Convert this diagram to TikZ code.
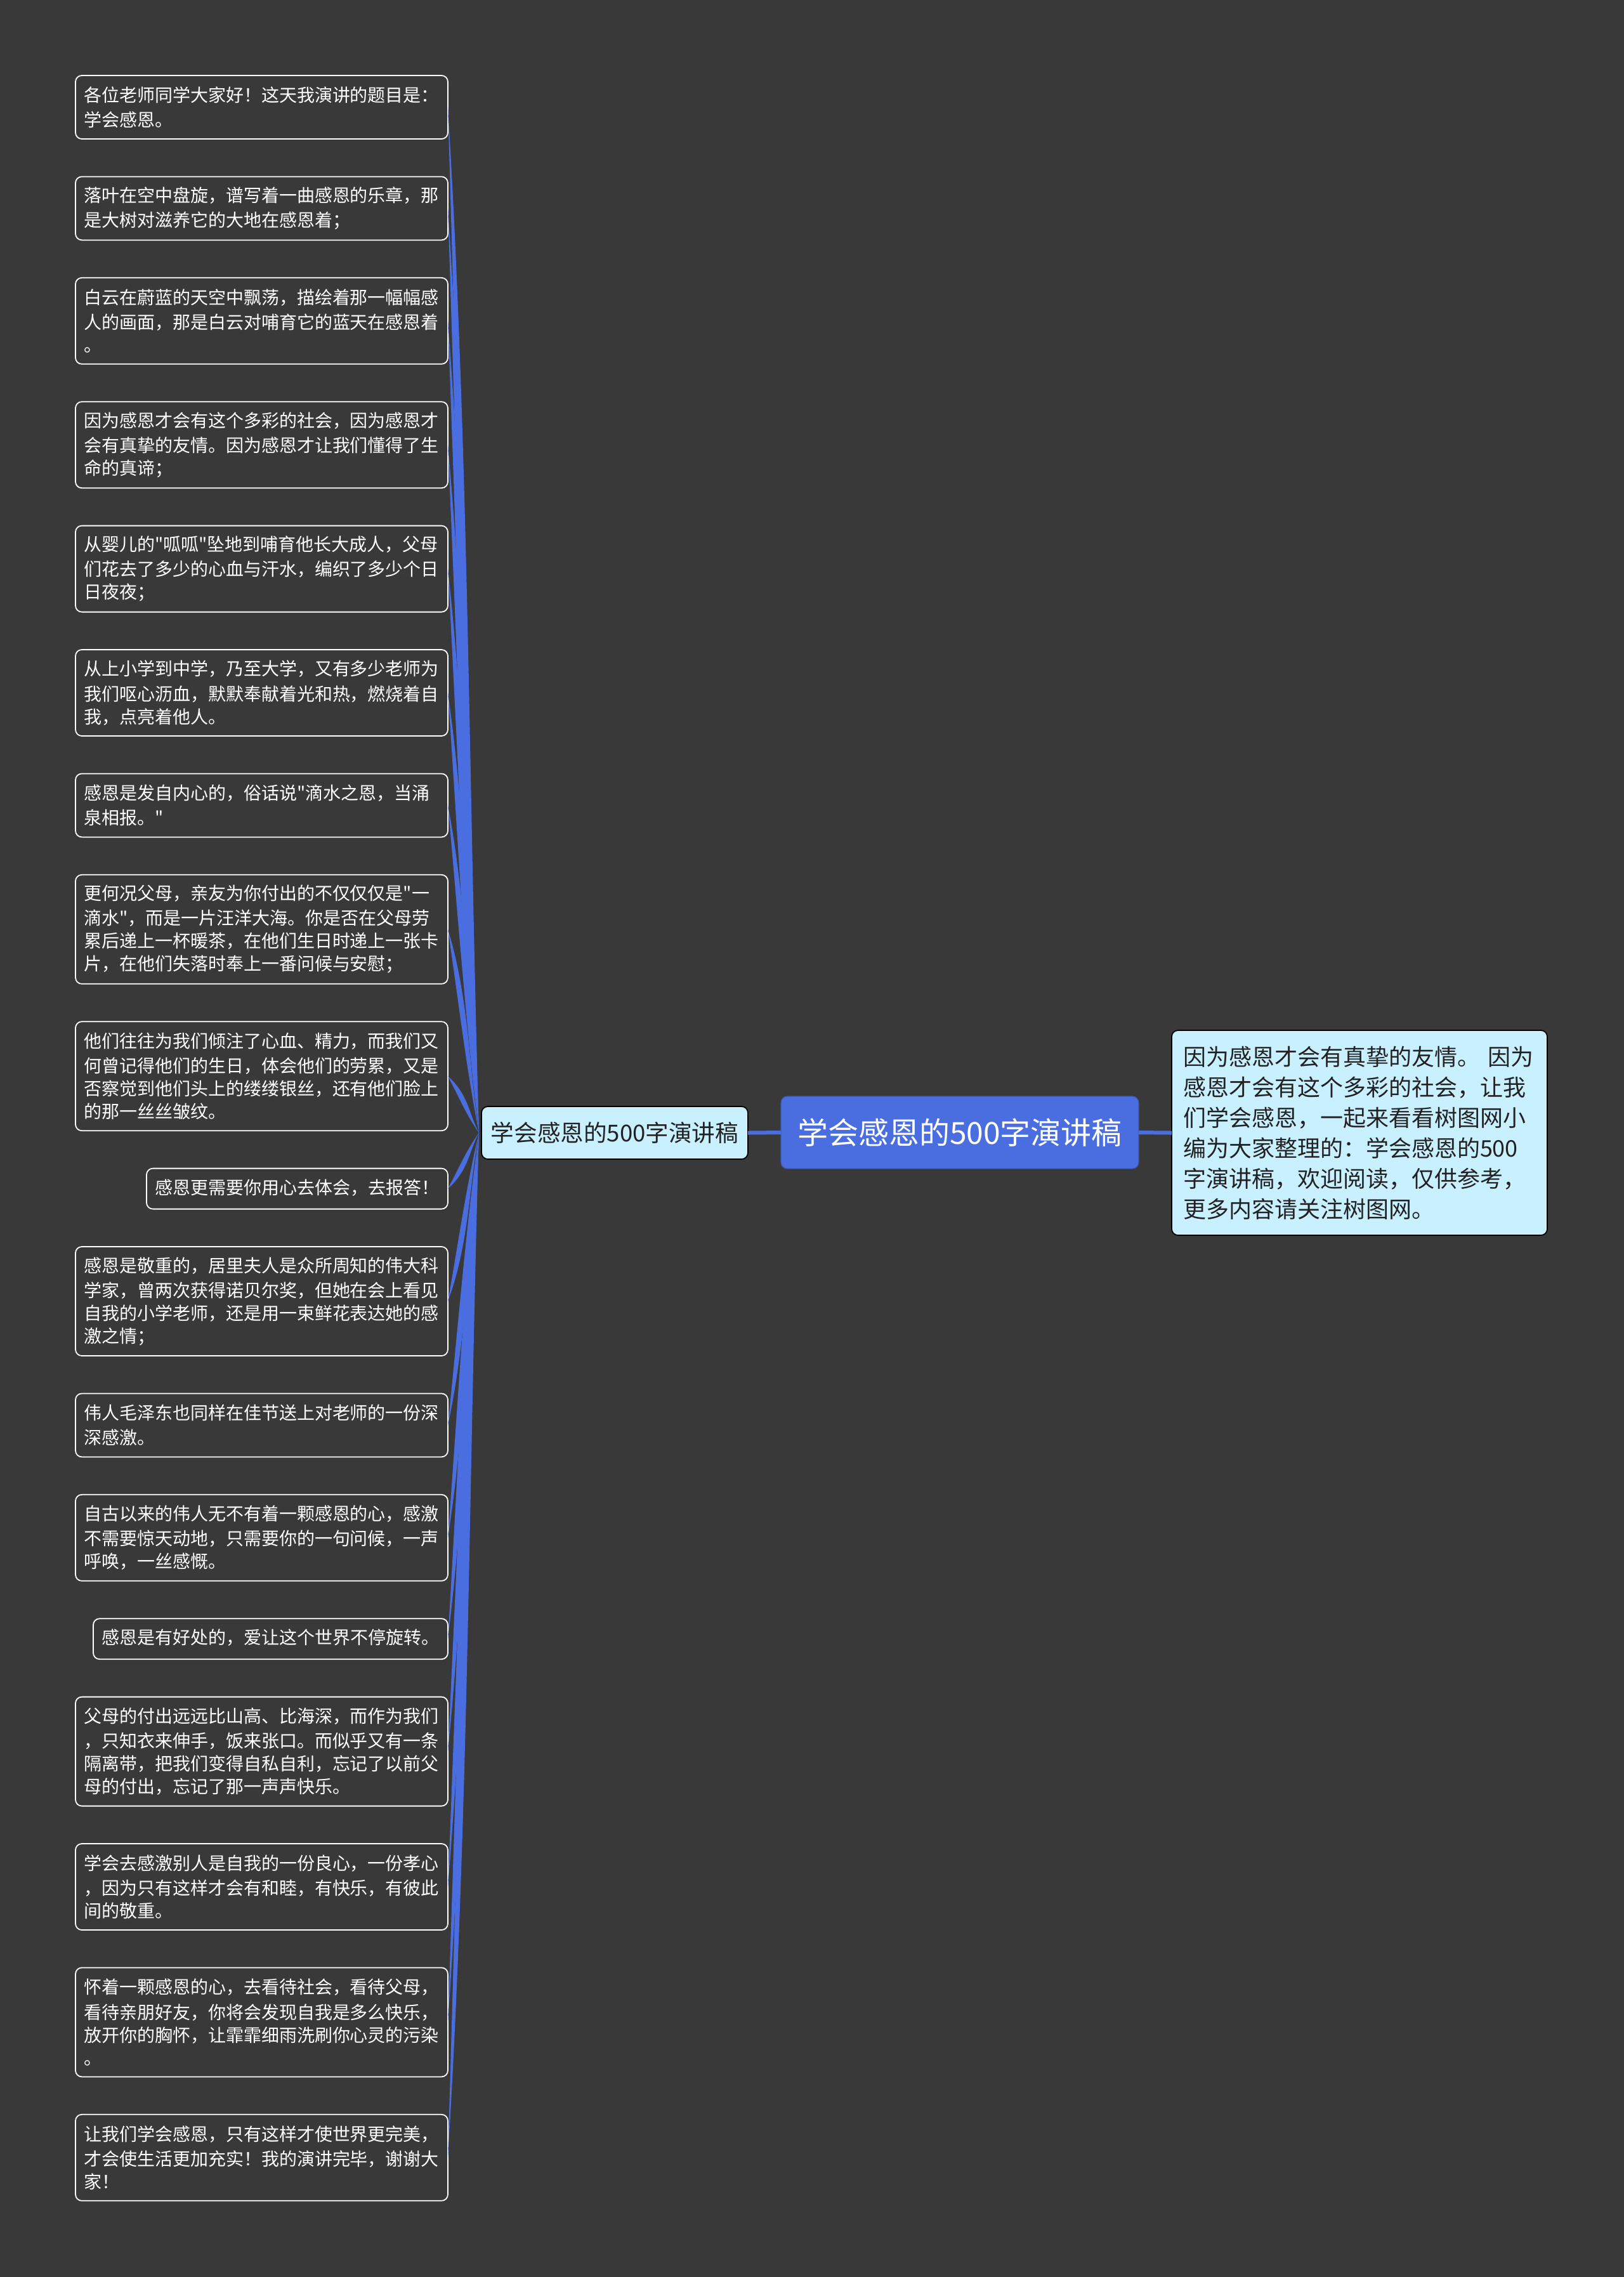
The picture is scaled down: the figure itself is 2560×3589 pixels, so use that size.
\documentclass[tikz,border=0pt]{standalone}
\usepackage{fontspec}
\setmainfont[Ligatures=TeXOff]{Noto Sans CJK SC}
\usetikzlibrary{calc}
\setlength{\lineskiplimit}{-100pt}
\AtBeginDocument{\setlength{\lineskiplimit}{-100pt}}
\definecolor{bgc}{HTML}{3A393A}
\definecolor{bluec}{HTML}{4A6EE0}
\definecolor{lightc}{HTML}{C9F0FF}
\definecolor{darkt}{HTML}{222222}
\tikzset{
  x=0.5pt,y=-0.5pt,
  leafbox/.style={draw=white,line width=0.9pt,rounded corners=5pt,anchor=north west,outer sep=0pt,
    inner xsep=6.5pt,inner ysep=0pt,align=left,text=white,font=\fontsize{14}{18}\selectfont,
    execute at begin node={\vspace*{1.6pt}}},
  wide/.style={leafbox,minimum width=293.5pt,text width=280.5pt},
  hone/.style={minimum height=32pt},
  htwo/.style={minimum height=50pt},
  hthree/.style={minimum height=68pt},
  hfour/.style={minimum height=86pt},
  midbox/.style={draw=black,line width=0.9pt,fill=lightc,rounded corners=5pt,outer sep=0pt,text=darkt},
  rootbox/.style={draw=bluec!80!black,line width=0.6pt,fill=bluec,rounded corners=5pt,outer sep=0pt,text=white},
  trunk/.style={bluec,line width=3pt},
  conn/.style={fill=bluec,draw=none}
}
\newcommand{\taper}[1]{%
  \fill[conn] let \p1=(#1.east), \p2=([xshift=-2pt]mid.west) in
    (\p1) .. controls ({\x1+16.5pt},{\y1+(\y2-\y1)/3}) and ({\x1+16.5pt},{\y1+2*(\y2-\y1)/3}) .. (\p2)
    .. controls ({\x1+14pt},{\y1+2*(\y2-\y1)/3}) and ({\x1+8pt},{\y1+(\y2-\y1)/3}) .. (\p1) -- cycle;}
\begin{document}
\begin{tikzpicture}
\useasboundingbox (0,0) rectangle (2560,3589);
\fill[bgc] (0,0) rectangle (2560,3589);

\node[rootbox,minimum width=282pt,minimum height=57pt,font=\fontsize{24}{30}\selectfont] (root) at (1513,1785) {学会感恩的500字演讲稿};
\node[midbox,minimum width=210pt,minimum height=41.5pt,font=\fontsize{18.3}{24}\selectfont] (mid) at (969,1785.5) {学会感恩的500字演讲稿};
\node[midbox,anchor=north west,minimum width=296pt,minimum height=161.5pt,inner xsep=9pt,inner ysep=0pt,text width=278pt,align=left,font=\fontsize{18}{24}\selectfont] (note) at (1847,1624) {因为感恩才会有真挚的友情。 因为\\感恩才会有这个多彩的社会，让我\\们学会感恩，一起来看看树图网小\\编为大家整理的：学会感恩的500\\字演讲稿，欢迎阅读，仅供参考，\\更多内容请关注树图网。};

\draw[trunk] (mid.east) -- (root.west);
\draw[trunk] (root.east) -- (note.west);

\node[wide,htwo] (a1) at (119,119) {各位老师同学大家好！这天我演讲的题目是：\\学会感恩。};
\node[wide,htwo] (a2) at (119,278.4) {落叶在空中盘旋，谱写着一曲感恩的乐章，那\\是大树对滋养它的大地在感恩着；};
\node[wide,hthree] (a3) at (119,437.8) {白云在蔚蓝的天空中飘荡，描绘着那一幅幅感\\人的画面，那是白云对哺育它的蓝天在感恩着\\。};
\node[wide,hthree] (a4) at (119,633.2) {因为感恩才会有这个多彩的社会，因为感恩才\\会有真挚的友情。因为感恩才让我们懂得了生\\命的真谛；};
\node[wide,hthree] (a5) at (119,828.6) {从婴儿的"呱呱"坠地到哺育他长大成人，父母\\们花去了多少的心血与汗水，编织了多少个日\\日夜夜；};
\node[wide,hthree] (a6) at (119,1024) {从上小学到中学，乃至大学，又有多少老师为\\我们呕心沥血，默默奉献着光和热，燃烧着自\\我，点亮着他人。};
\node[wide,htwo] (a7) at (119,1219.4) {感恩是发自内心的，俗话说"滴水之恩，当涌\\泉相报。"};
\node[wide,hfour] (a8) at (119,1378.8) {更何况父母，亲友为你付出的不仅仅仅是"一\\滴水"，而是一片汪洋大海。你是否在父母劳\\累后递上一杯暖茶，在他们生日时递上一张卡\\片，在他们失落时奉上一番问候与安慰；};
\node[wide,hfour] (a9) at (119,1610.2) {他们往往为我们倾注了心血、精力，而我们又\\何曾记得他们的生日，体会他们的劳累，又是\\否察觉到他们头上的缕缕银丝，还有他们脸上\\的那一丝丝皱纹。};
\node[leafbox,hone,minimum width=237.5pt,text width=224.5pt] (a10) at (231,1841.6) {感恩更需要你用心去体会，去报答！};
\node[wide,hfour] (a11) at (119,1965) {感恩是敬重的，居里夫人是众所周知的伟大科\\学家，曾两次获得诺贝尔奖，但她在会上看见\\自我的小学老师，还是用一束鲜花表达她的感\\激之情；};
\node[wide,htwo] (a12) at (119,2196.4) {伟人毛泽东也同样在佳节送上对老师的一份深\\深感激。};
\node[wide,hthree] (a13) at (119,2355.8) {自古以来的伟人无不有着一颗感恩的心，感激\\不需要惊天动地，只需要你的一句问候，一声\\呼唤，一丝感慨。};
\node[leafbox,hone,minimum width=279.5pt,text width=266.5pt] (a14) at (147,2551.2) {感恩是有好处的，爱让这个世界不停旋转。};
\node[wide,hfour] (a15) at (119,2674.6) {父母的付出远远比山高、比海深，而作为我们\\，只知衣来伸手，饭来张口。而似乎又有一条\\隔离带，把我们变得自私自利，忘记了以前父\\母的付出，忘记了那一声声快乐。};
\node[wide,hthree] (a16) at (119,2906) {学会去感激别人是自我的一份良心，一份孝心\\，因为只有这样才会有和睦，有快乐，有彼此\\间的敬重。};
\node[wide,hfour] (a17) at (119,3101.4) {怀着一颗感恩的心，去看待社会，看待父母，\\看待亲朋好友，你将会发现自我是多么快乐，\\放开你的胸怀，让霏霏细雨洗刷你心灵的污染\\。};
\node[wide,hthree] (a18) at (119,3332.8) {让我们学会感恩，只有这样才使世界更完美，\\才会使生活更加充实！我的演讲完毕，谢谢大\\家！};

\foreach \lf in {a1,a2,a3,a4,a5,a6,a7,a8,a9,a10,a11,a12,a13,a14,a15,a16,a17,a18}{\taper{\lf}}
\end{tikzpicture}
\end{document}
